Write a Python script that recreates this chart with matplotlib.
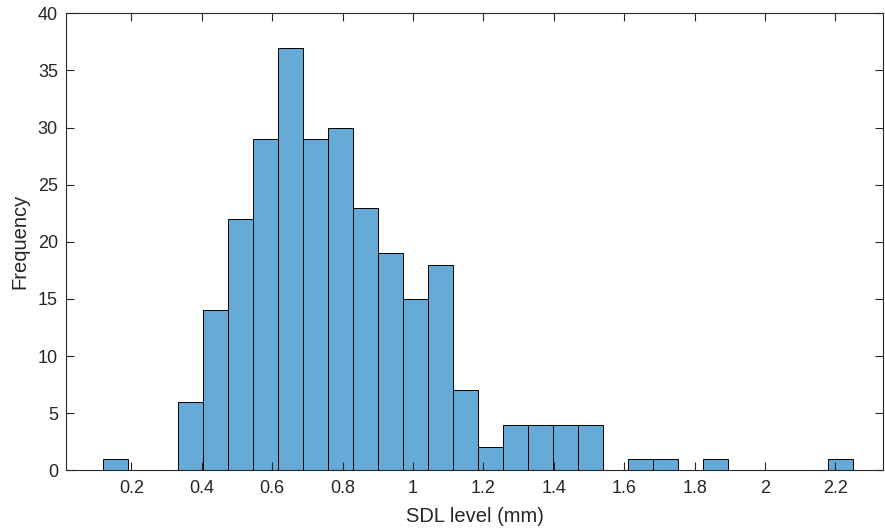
import numpy as np
import matplotlib.pyplot as plt
from matplotlib.ticker import FormatStrFormatter

plt.rcParams['font.family'] = ['Liberation Sans', 'DejaVu Sans']

# histogram of SDL level, 30 bins
bin_start = 0.1205
bin_width = 0.0710
counts = [1, 0, 0, 6, 14, 22, 29, 37, 29, 30, 23, 19, 15, 18, 7,
          2, 4, 4, 4, 4, 0, 1, 1, 0, 1, 0, 0, 0, 0, 1]
xticks = [0.2, 0.4, 0.6, 0.8, 1.0, 1.2, 1.4, 1.6, 1.8, 2.0, 2.2]
yticks = [0, 5, 10, 15, 20, 25, 30, 35, 40]

counts = np.array(counts)
edges = bin_start + bin_width * np.arange(len(counts) + 1)
lefts = edges[:-1]
nz = counts > 0

fig = plt.figure(figsize=(8.85, 5.31), dpi=100)
ax = fig.add_axes([0.0749, 0.1143, 0.9228, 0.8607])

ax.bar(lefts[nz], counts[nz], width=bin_width, align='edge',
       color='#66aad7', edgecolor='black', linewidth=0.7)

ax.set_xlim(0.0153, 2.335)
ax.set_ylim(0, 40)
ax.set_xticks(xticks)
ax.set_yticks(yticks)
ax.xaxis.set_major_formatter(FormatStrFormatter('%g'))

axcol = '#262626'
for s in ax.spines.values():
    s.set_color(axcol)
    s.set_linewidth(0.8)
ax.tick_params(direction='in', length=5.5, width=0.8, color=axcol,
               labelcolor=axcol, labelsize=13, top=True, right=True)
ax.tick_params(axis='x', pad=7)
ax.tick_params(axis='y', pad=6)

ax.set_xlabel('SDL level (mm)', fontsize=14.5, color=axcol, labelpad=7)
ax.set_ylabel('Frequency', fontsize=14.5, color=axcol, labelpad=6)

fig.savefig('out.png', dpi=100)
